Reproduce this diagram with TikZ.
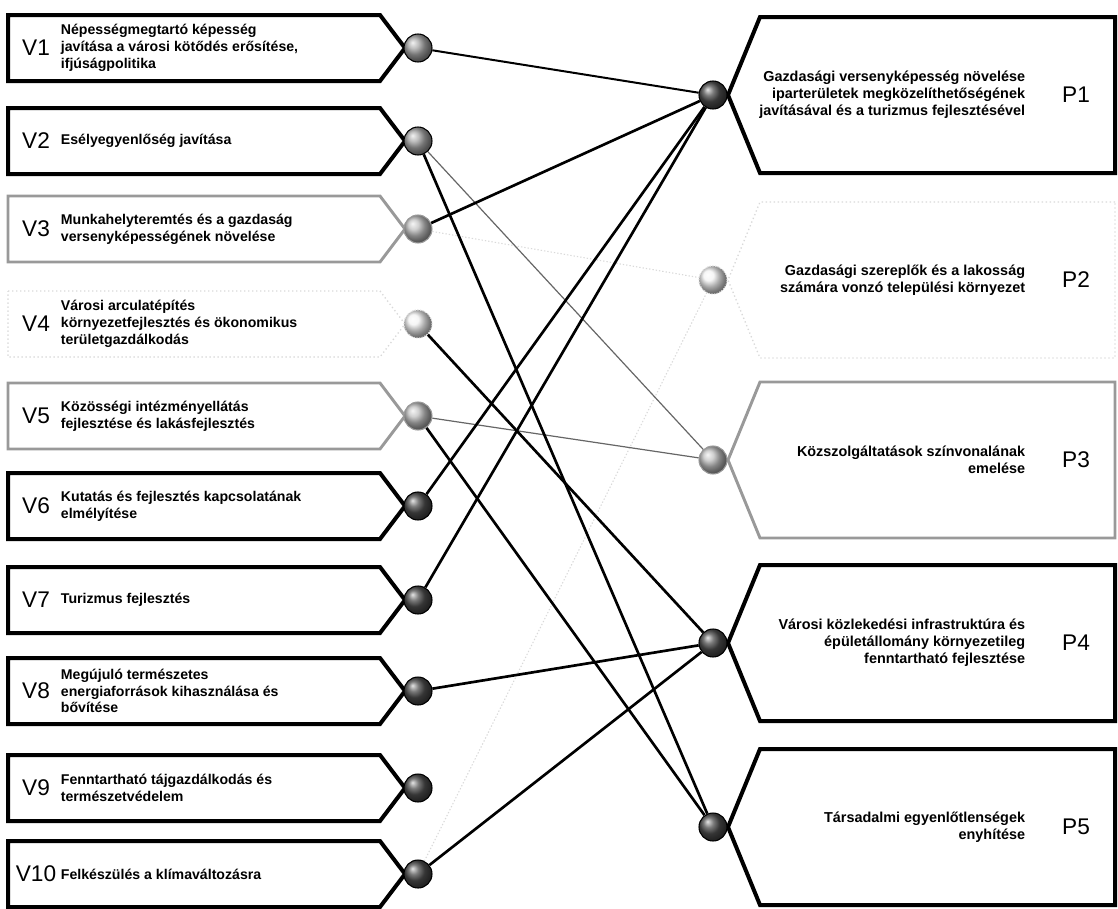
\documentclass[tikz,border=0pt]{standalone}
\usepackage{fontspec}
\setmainfont{Liberation Sans}
\begin{document}
\begin{tikzpicture}[x=0.75pt,y=-0.75pt,
    boxdark/.style={draw=black,line width=3pt,line join=miter},
    boxgrey/.style={draw=black!40,line width=2.2pt,line join=miter},
    boxghost/.style={draw=black!15,line width=1pt,dash pattern=on 1pt off 2pt},
    knotdark/.style={circle,inner sep=0pt,minimum size=21pt,draw=black,line width=0.8pt,ball color=black!70},
    knotmid/.style={knotdark,ball color=black!35},
    knotpale/.style={knotdark,draw=black!40,ball color=black!25},
    knotghost/.style={knotdark,draw=black!15,dash pattern=on 1pt off 1pt,ball color=black!5},
    vlab/.style={font=\fontsize{17}{17}\selectfont},
    vtext/.style={font=\bfseries\fontsize{10.6}{12.6}\selectfont,align=left,anchor=west,inner sep=2pt},
    ptext/.style={font=\bfseries\fontsize{10.8}{12.6}\selectfont,align=right,anchor=east,inner sep=2pt},
    link/.style={line width=2pt},
    thinlink/.style={line width=0.9pt,draw=black!60},
    ghostlink/.style={line width=0.8pt,draw=black!15,dash pattern=on 1pt off 1.5pt}]
\useasboundingbox (0,0) rectangle (1118,908);

% left side: V1 ... V10
\foreach \n/\y/\look/\knot/\txt in {
    1/48/boxdark/knotmid/{Népességmegtartó képesség\\javítása a városi kötődés erősítése,\\ifjúságpolitika},
    2/141/boxdark/knotmid/{Esélyegyenlőség javítása},
    3/229/boxgrey/knotpale/{Munkahelyteremtés és a gazdaság\\versenyképességének növelése},
    4/324/boxghost/knotghost/{Városi arculatépítés\\környezetfejlesztés és ökonomikus\\területgazdálkodás},
    5/416/boxgrey/knotpale/{Közösségi intézményellátás\\fejlesztése és lakásfejlesztés},
    6/506/boxdark/knotdark/{Kutatás és fejlesztés kapcsolatának\\elmélyítése},
    7/600/boxdark/knotdark/{Turizmus fejlesztés},
    8/691/boxdark/knotdark/{Megújuló természetes\\energiaforrások kihasználása és\\bővítése},
    9/788/boxdark/knotdark/{Fenntartható tájgazdálkodás és\\természetvédelem},
    10/874/boxdark/knotdark/{Felkészülés a klímaváltozásra}} {
  \draw[\look] (8,\y-33) -- (380,\y-33) -- (405,\y) -- (380,\y+33) -- (8,\y+33) -- cycle;
  \node[vlab] (vl\n) at (36,\y) {V\n};
  \node[vtext] (vt\n) at (58,\y) {\txt};
  \node[\knot] (v\n) at (418,\y) {};
}

% right side: P1 ... P5
\foreach \n/\y/\look/\knot/\txt in {
    1/95/boxdark/knotdark/{Gazdasági versenyképesség növelése\\iparterületek megközelíthetőségének\\javításával és a turizmus fejlesztésével},
    2/280/boxghost/knotghost/{Gazdasági szereplők és a lakosság\\számára vonzó települési környezet},
    3/460/boxgrey/knotpale/{Közszolgáltatások színvonalának\\emelése},
    4/643/boxdark/knotdark/{Városi közlekedési infrastruktúra és\\épületállomány környezetileg\\fenntartható fejlesztése},
    5/827/boxdark/knotdark/{Társadalmi egyenlőtlenségek\\enyhítése}} {
  \draw[\look] (1115,\y-78) -- (760,\y-78) -- (728,\y) -- (760,\y+78) -- (1115,\y+78) -- cycle;
  \node[ptext] (pt\n) at (1028,\y) {\txt};
  \node[vlab] (pl\n) at (1076,\y) {P\n};
  \node[\knot] (p\n) at (713,\y) {};
}

% connections
\draw[ghostlink] (v3) -- (p2);
\draw[ghostlink] (v10) -- (p2);
\draw[thinlink] (v2) -- (p3);
\draw[thinlink] (v5) -- (p3);
\draw[link,line width=1.5pt] (v1) -- (p1);
\draw[link] (v3) -- (p1);
\draw[link] (v6) -- (p1);
\draw[link] (v7) -- (p1);
\draw[link] (v4) -- (p4);
\draw[link] (v8) -- (p4);
\draw[link] (v10) -- (p4);
\draw[link] (v2) -- (p5);
\draw[link] (v5) -- (p5);
\end{tikzpicture}
\end{document}
